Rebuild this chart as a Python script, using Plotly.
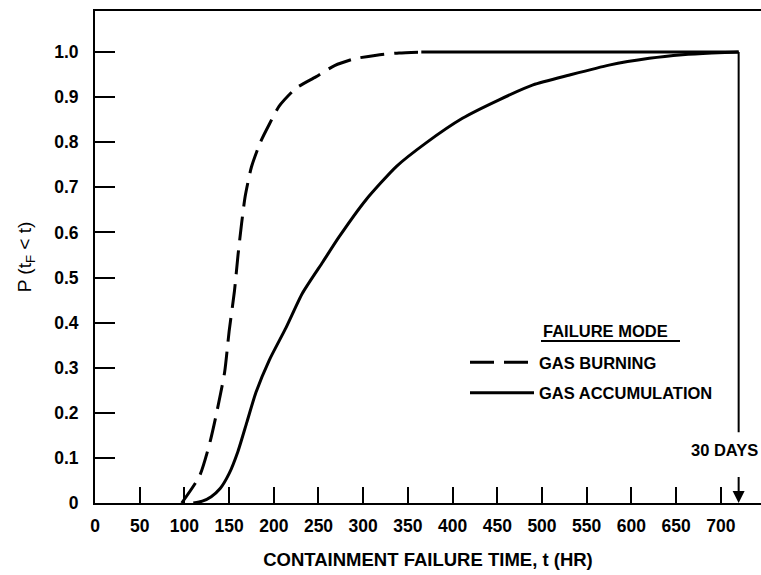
import plotly.graph_objects as go

# ---- data ----
burn_x = [97, 117, 128, 135, 145, 150, 156, 160, 164, 168, 175, 185, 195, 206, 225, 247, 268, 290, 315, 340, 365]
burn_y = [0, 0.06, 0.13, 0.19, 0.29, 0.38, 0.47, 0.55, 0.62, 0.68, 0.745, 0.80, 0.84, 0.88, 0.92, 0.945, 0.97, 0.985, 0.993, 0.998, 1.0]
burn_plateau_x = [365, 720]
burn_plateau_y = [1.0, 1.0]

accum_x = [110, 120, 130, 140, 150, 160, 170, 180, 195, 214, 232, 255, 273, 303, 337, 370, 411, 452, 490, 531, 575, 620, 657, 690, 720]
accum_y = [0, 0.004, 0.014, 0.032, 0.065, 0.115, 0.18, 0.245, 0.317, 0.39, 0.465, 0.535, 0.59, 0.672, 0.746, 0.798, 0.853, 0.894, 0.927, 0.949, 0.971, 0.986, 0.994, 0.998, 1.0]

x_tick_vals = [0, 50, 100, 150, 200, 250, 300, 350, 400, 450, 500, 550, 600, 650, 700]
x_tick_text = ["0", "50", "100", "150", "200", "250", "300", "350", "400", "450", "500", "550", "600", "650", "700"]
y_tick_vals = [0, 0.1, 0.2, 0.3, 0.4, 0.5, 0.6, 0.7, 0.8, 0.9, 1.0]
y_tick_text = ["0", "0.1", "0.2", "0.3", "0.4", "0.5", "0.6", "0.7", "0.8", "0.9", "1.0"]

series_names = ["GAS BURNING", "GAS ACCUMULATION"]
legend_title = "FAILURE MODE"
thirty_days_hr = 720
thirty_days_label = "30 DAYS"

FONT = "Liberation Sans, Arial, sans-serif"
TICK_FONT = dict(family=FONT, size=17.5, color="black", weight="bold")
LEG_FONT = dict(family=FONT, size=16.5, color="black", weight="bold")
TITLE_FONT = dict(family=FONT, size=18.5, color="black", weight="bold")

fig = go.Figure()
fig.add_trace(go.Scatter(
    x=burn_x, y=burn_y, mode="lines", name=series_names[0], legendgroup="a",
    line=dict(color="black", width=3, dash="24px,10px", shape="spline", smoothing=0.6),
))
fig.add_trace(go.Scatter(
    x=burn_plateau_x, y=burn_plateau_y, mode="lines", showlegend=False,
    line=dict(color="black", width=3), hoverinfo="skip",
))
fig.add_trace(go.Scatter(
    x=accum_x, y=accum_y, mode="lines", name=series_names[1], legendgroup="b",
    line=dict(color="black", width=3, shape="spline", smoothing=0.6),
))

# 30 days marker
fig.add_shape(type="line", xref="x", yref="y", x0=thirty_days_hr, x1=thirty_days_hr,
              y0=1.0, y1=0.157, line=dict(color="black", width=2))
fig.add_annotation(x=thirty_days_hr, y=0, xref="x", yref="y", showarrow=True,
                   ax=0, ay=-36, arrowhead=2, arrowsize=1.2, arrowwidth=2,
                   arrowcolor="black", text=" ")
fig.add_annotation(x=704, y=0.1175, xref="x", yref="y", showarrow=False,
                   text=thirty_days_label, font=LEG_FONT)

# legend title
fig.add_annotation(x=(541 - 95) / 666, y=(503 - 331) / 492, xref="paper", yref="paper",
                   xanchor="left", yanchor="middle", showarrow=False,
                   text=legend_title, font=LEG_FONT)
fig.add_shape(type="line", xref="paper", yref="paper",
              x0=(541 - 95) / 666, x1=(680 - 95) / 666,
              y0=(503 - 341) / 492, y1=(503 - 341) / 492,
              line=dict(color="black", width=2))

fig.update_layout(
    width=761, height=575,
    margin=dict(l=95, r=0, t=11, b=72),
    paper_bgcolor="white", plot_bgcolor="white",
    showlegend=True,
    legend=dict(x=(465 - 95) / 666, y=(503 - 345) / 492, xanchor="left", yanchor="top",
                bgcolor="rgba(0,0,0,0)", font=LEG_FONT, itemwidth=64,
                tracegroupgap=6),
)
fig.update_xaxes(
    range=[0, 745], tickvals=x_tick_vals, ticktext=x_tick_text,
    ticks="inside", ticklen=16, tickwidth=2, tickcolor="black",
    showline=True, linecolor="black", linewidth=2, mirror=True,
    showgrid=False, zeroline=False, tickfont=TICK_FONT, ticklabelstandoff=6,
    title=dict(text="CONTAINMENT FAILURE TIME, t (HR)", font=TITLE_FONT, standoff=18),
)
fig.update_yaxes(
    range=[0, 1.091], tickvals=y_tick_vals, ticktext=y_tick_text,
    ticks="inside", ticklen=20, tickwidth=2, tickcolor="black",
    showline=True, linecolor="black", linewidth=2, mirror=False,
    showgrid=False, zeroline=False, tickfont=TICK_FONT, ticklabelstandoff=11,
    title=dict(text="P (t<sub>F</sub> < t)", font=dict(family=FONT, size=19, color="black"), standoff=18),
)

fig.write_html("out.html", config={"displayModeBar": False},
               post_script="document.body.style.margin='0px';")
